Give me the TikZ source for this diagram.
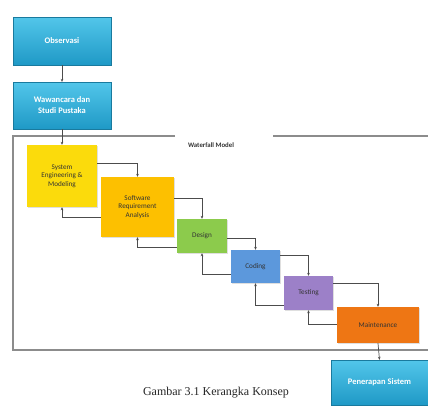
\documentclass[tikz,border=0pt]{standalone}
\usepackage{fontspec}
\setmainfont{Liberation Serif}
\newfontfamily\boxfont{Carlito}
\usetikzlibrary{arrows.meta,shadows}
\definecolor{cyantop}{HTML}{52C6EA}
\definecolor{cyanbot}{HTML}{1F99C6}
\definecolor{sysc}{HTML}{FBDB0C}
\definecolor{srac}{HTML}{FDC000}
\definecolor{desc}{HTML}{8CCB4C}
\definecolor{codc}{HTML}{5C98DC}
\definecolor{tesc}{HTML}{9C80C8}
\definecolor{mntc}{HTML}{EE7614}
\definecolor{framec}{HTML}{8C8C8C}
\begin{document}
\begin{tikzpicture}[x=1pt,y=-1pt,
  base/.style={rectangle,inner sep=1pt,align=center,font=\boxfont\fontsize{7.2}{8.6}\selectfont,
    drop shadow={shadow xshift=0.8pt,shadow yshift=-0.8pt,opacity=0.25}},
  cyanbox/.style={base,top color=cyantop,bottom color=cyanbot,draw=cyanbot!80!black,line width=0.3pt,text=white,
    font=\boxfont\bfseries\fontsize{8.5}{11}\selectfont},
  stagebox/.style={base,text=black!80},
  conn/.style={draw=black!70,line width=0.7pt,-{Stealth[length=3pt,width=2.6pt]}},
  framel/.style={draw=framec,line width=1.2pt}]
\useasboundingbox (0,0) rectangle (428,405);
% frame
\coordinate (f1) at (13,136);
\coordinate (f2) at (175,136);
\coordinate (f3) at (273,136);
\coordinate (f4) at (428,136);
\coordinate (f5) at (13,350);
\coordinate (f6) at (428,350);
\draw[framel] (f2) -- (f1) -- (f5) -- (f6);
\draw[framel] (f3) -- (f4);
\node[font=\boxfont\bfseries\fontsize{6.8}{8}\selectfont,text=black!80] (wm) at (211,145) {Waterfall Model};
% boxes
\node[cyanbox,minimum width=98pt,minimum height=48pt] (obs) at (62,41) {Observasi};
\node[cyanbox,minimum width=98pt,minimum height=47pt] (waw) at (62,105.5) {Wawancara dan\\Studi Pustaka};
\node[stagebox,fill=sysc,minimum width=70pt,minimum height=62pt] (sys) at (62,176) {System\\Engineering \&\\Modeling};
\node[stagebox,fill=srac,minimum width=73pt,minimum height=60pt] (sra) at (137.5,207) {Software\\Requirement\\Analysis};
\node[stagebox,fill=desc,minimum width=50pt,minimum height=34pt] (des) at (202,236) {Design};
\node[stagebox,fill=codc,minimum width=49pt,minimum height=33pt] (cod) at (255.5,266.5) {Coding};
\node[stagebox,fill=tesc,minimum width=49pt,minimum height=34pt] (tes) at (308.5,293) {Testing};
\node[stagebox,fill=mntc,minimum width=82pt,minimum height=36pt] (mnt) at (378,325) {Maintenance};
\node[cyanbox,minimum width=97pt,minimum height=45pt] (pen) at (379.5,382.5) {Penerapan Sistem};
% vertical flow
\draw[conn] (obs) -- (waw);
\draw[conn] (waw) -- (sys);
\draw[conn] (mnt.south) -- (pen.north);
% forward connectors
\draw[conn] ([yshift=13pt]sys.east) -| (sra.north);
\draw[conn] ([yshift=9pt]sra.east) -| (des.north);
\draw[conn] ([yshift=-2pt]des.east) -| (cod.north);
\draw[conn] ([yshift=11.5pt]cod.east) -| (tes.north);
\draw[conn] ([yshift=10pt]tes.east) -| (mnt.north);
% feedback connectors
\draw[conn] ([yshift=-10pt]sra.west) -| (sys.south);
\draw[conn] ([yshift=-11pt]des.west) -| (sra.south);
\draw[conn] ([yshift=-7.5pt]cod.west) -| (des.south);
\draw[conn] ([yshift=-12pt]tes.west) -| (cod.south);
\draw[conn] ([yshift=1pt]mnt.west) -| (tes.south);
% caption
\node[font=\fontsize{12}{14}\selectfont,text=black!85] (cap) at (216,393) {Gambar 3.1 Kerangka Konsep};
\end{tikzpicture}
\end{document}
